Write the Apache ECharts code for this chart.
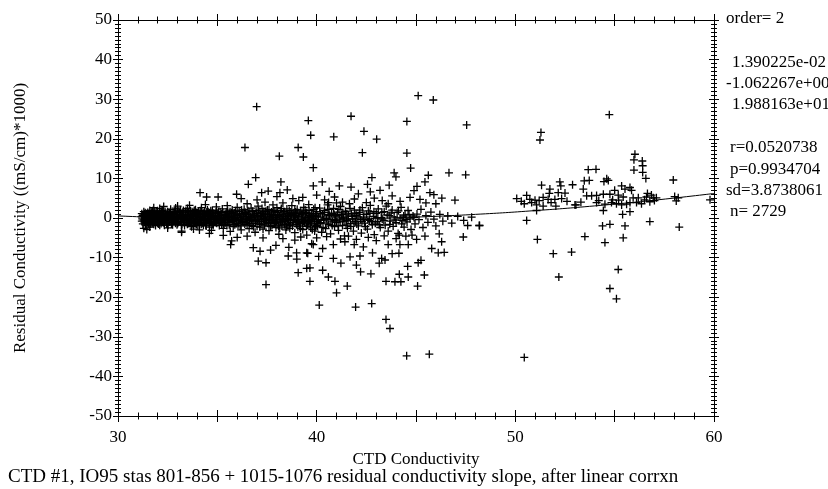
<!DOCTYPE html>
<html>
<head>
<meta charset="utf-8">
<script src="https://cdn.jsdelivr.net/npm/echarts@6/dist/echarts.min.js"></script>
<style>
html,body{margin:0;padding:0;background:#fff;}
#c{width:828px;height:489px;}
</style>
</head>
<body>
<div id="c"></div>
<script>
// ---- data ----
var xTickLabels = [30, 40, 50, 60];
var yTickLabels = [-50, -40, -30, -20, -10, 0, 10, 20, 30, 40, 50];

// fitted curve (order 2)
var fitX = [30, 33, 36, 39, 42, 45, 48, 51, 54, 57, 60];
var fitY = [0.53, -0.03, -0.34, -0.40, -0.21, 0.23, 0.92, 1.87, 3.06, 4.50, 6.19];

// dense band 31-35
var band1 = [[31.2,0.3],[31.2,-0.8],[31.2,1.1],[31.25,-1.5],[31.3,0.5],[31.3,1.6],[31.35,-0.3],[31.4,-1.2],[31.4,0.9],[31.45,0.1],[31.5,1.4],[31.5,-0.6],[31.55,-1.7],[31.6,0.4],[31.6,1.9],[31.65,-1.0],[31.7,0.0],[31.7,1.2],[31.75,-0.4],[31.8,-1.6],[31.8,0.7],[31.85,1.6],[31.9,-0.9],[31.9,0.2],[31.95,1.0],[32.0,-1.3],[32.0,0.5],[32.05,-0.2],[32.1,1.5],[32.1,-1.8],[32.15,0.8],[32.2,-0.7],[32.2,0.1],[32.25,1.9],[32.3,-1.2],[32.3,1.0],[32.35,-0.1],[32.4,0.6],[32.45,-1.5],[32.5,1.6],[32.5,-0.5],[32.55,0.3],[32.6,-1.0],[32.6,1.2],[32.65,2.2],[32.7,-0.2],[32.75,-1.7],[32.8,0.9],[32.8,0.0],[32.85,1.7],[32.9,-0.9],[32.95,0.4],[33.0,-1.4],[33.0,1.3],[33.05,-0.3],[33.1,0.7],[33.15,2.0],[33.2,-1.1],[33.2,0.2],[33.25,1.0],[33.3,-0.6],[33.35,-1.9],[33.4,1.5],[33.4,0.4],[33.45,-0.8],[33.5,2.4],[33.5,0.9],[33.55,-1.3],[33.6,0.0],[33.65,1.8],[33.7,-0.5],[33.7,-2.2],[33.75,0.6],[33.8,1.2],[33.85,-1.0],[33.9,0.3],[33.9,2.1],[33.95,-1.6],[34.0,0.8],[34.0,-0.3],[34.05,1.5],[34.1,-1.2],[34.15,0.1],[34.2,2.6],[34.2,-0.7],[34.25,1.0],[34.3,-1.8],[34.3,0.4],[34.35,1.7],[34.4,-0.4],[34.45,-1.3],[34.5,0.9],[34.5,2.0],[34.55,-0.1],[34.6,-2.3],[34.6,1.3],[34.65,0.3],[34.7,-0.9],[34.75,1.9],[34.8,0.6],[34.8,-1.5],[34.85,-0.2],[34.9,1.1],[34.95,2.8],[35.0,-0.6],[35.0,0.5],
[31.3,-2.6],[31.45,-2.9],[31.8,2.6],[32.3,2.9],[32.5,-2.5],[33.2,-3.3],[33.0,3.0],[33.6,3.2],[33.8,-2.8],[34.1,-3.0],[34.4,3.4],[34.7,-3.1],[32.9,2.5],[31.6,-2.3],[32.1,2.4]];
var band1b = [[31.22,-0.2],[31.27,0.8],[31.32,-1.0],[31.37,1.3],[31.42,-0.4],[31.47,0.6],[31.52,-1.3],[31.57,1.0],[31.62,-0.5],[31.67,1.6],[31.72,-1.3],[31.77,0.3],[31.82,-0.2],[31.87,-1.1],[31.92,1.4],[31.97,-0.5],[32.02,1.1],[32.07,-1.0],[32.12,0.1],[32.17,-1.4],[32.22,1.3],[32.27,-0.4],[32.32,0.4],[32.37,1.6],[32.42,-0.9],[32.47,0.9],[32.52,-1.8],[32.57,1.4],[32.62,-0.3],[32.67,0.6],[32.72,-1.2],[32.77,1.1],[32.82,-0.6],[32.87,0.2],[32.92,1.5],[32.97,-1.7],[33.02,0.0],[33.07,1.7],[33.12,-0.9],[33.17,0.5],[33.22,-1.6],[33.27,1.5],[33.32,0.1],[33.37,-0.4],[33.42,1.9],[33.47,-1.1],[33.52,0.3],[33.57,1.3],[33.62,-0.9],[33.67,0.7],[33.72,-1.5],[33.77,1.6],[33.82,-0.1],[33.87,0.9],[33.92,-1.2],[33.97,1.4],[34.02,-1.9],[34.07,0.3],[34.12,1.0],[34.17,-0.6],[34.22,1.7],[34.27,-1.3],[34.32,-0.1],[34.37,0.8],[34.42,-1.8],[34.47,1.5],[34.52,-0.7],[34.57,0.4],[34.62,-1.1],[34.67,1.8],[34.72,0.0],[34.77,-1.6],[34.82,1.2],[34.87,-0.8],[34.92,0.2],[34.97,-1.3]];
var band1c = [[31.24,0.6],[31.29,-0.5],[31.34,1.0],[31.39,-1.8],[31.44,0.3],[31.49,-1.0],[31.54,0.8],[31.59,-0.1],[31.64,-1.5],[31.69,0.5],[31.74,1.8],[31.79,-0.8],[31.84,0.1],[31.89,-1.9],[31.94,0.7],[31.99,1.8],[32.04,-1.5],[32.09,0.3],[32.14,-0.6],[32.19,1.7],[32.24,-1.1],[32.29,0.2],[32.34,-1.8],[32.39,1.1],[32.44,0.0],[32.49,-1.2],[32.54,0.9],[32.59,-0.7],[32.64,1.6],[32.69,-1.6],[32.74,0.4],[32.79,-0.4],[32.84,1.3],[32.89,-1.3],[32.94,-0.2],[32.99,0.8],[33.04,-1.1],[33.09,1.4],[33.14,0.1],[33.19,-1.8],[33.24,0.6],[33.29,1.9],[33.34,-1.2],[33.39,0.9],[33.44,-0.2],[33.49,-1.6],[33.54,1.6],[33.59,-0.6],[33.64,0.3],[33.69,-1.9],[33.74,1.0],[33.79,-0.3],[33.84,1.9],[33.89,-1.4],[33.94,0.5],[33.99,-0.9],[34.04,1.1],[34.09,-0.5],[34.14,1.8],[34.19,-1.6],[34.24,0.2],[34.29,1.2],[34.34,-1.1],[34.39,0.6],[34.44,-2.0],[34.49,0.0],[34.54,1.6],[34.59,-1.4],[34.64,0.9],[34.69,-0.4],[34.74,1.2],[34.79,-1.9],[34.84,0.3],[34.89,-1.1],[34.94,1.5],[34.99,-0.3]];

// dense band 35-40
var band2 = [[35.05,1.6],[35.1,-1.9],[35.1,0.2],[35.15,-0.8],[35.2,1.0],[35.25,2.3],[35.3,-0.3],[35.3,-2.6],[35.35,0.7],[35.4,-1.2],[35.45,1.5],[35.5,-0.5],[35.5,3.1],[35.55,0.1],[35.6,-1.7],[35.6,1.1],[35.65,-3.4],[35.7,0.5],[35.75,2.0],[35.8,-0.9],[35.8,-2.2],[35.85,1.3],[35.9,0.0],[35.95,-1.4],[36.0,2.7],[36.0,0.7],[36.05,-0.6],[36.1,1.6],[36.15,-2.0],[36.2,0.3],[36.2,-3.0],[36.25,1.1],[36.3,-1.1],[36.35,2.2],[36.4,-0.2],[36.45,0.9],[36.5,-1.8],[36.5,3.6],[36.55,0.4],[36.6,-2.7],[36.6,1.5],[36.65,-0.7],[36.7,2.5],[36.75,0.1],[36.8,-1.4],[36.85,1.0],[36.9,-3.6],[36.9,-0.3],[36.95,1.9],[37.0,-2.1],[37.0,0.6],[37.05,3.0],[37.1,-0.9],[37.15,1.3],[37.2,-1.6],[37.2,0.0],[37.25,2.4],[37.3,-2.8],[37.35,0.8],[37.4,-0.5],[37.4,4.0],[37.45,1.7],[37.5,-1.2],[37.55,0.3],[37.6,-3.2],[37.6,2.1],[37.65,-0.2],[37.7,1.0],[37.75,-1.9],[37.8,0.5],[37.8,3.3],[37.85,-0.8],[37.9,1.6],[37.95,-2.4],[38.0,0.1],[38.0,2.6],[38.05,-1.3],[38.1,-4.1],[38.1,0.9],[38.15,-0.4],[38.2,1.9],[38.25,-2.0],[38.3,0.4],[38.3,3.8],[38.35,-0.9],[38.4,1.3],[38.45,-3.0],[38.5,-0.1],[38.5,2.3],[38.55,-1.6],[38.6,0.7],[38.65,-2.6],[38.7,1.5],[38.7,-0.5],[38.75,3.1],[38.8,-1.1],[38.85,0.2],[38.9,-3.7],[38.9,2.0],[38.95,-0.7],[39.0,1.0],[39.05,-2.2],[39.1,0.3],[39.1,4.4],[39.15,-1.4],[39.2,1.8],[39.25,-0.3],[39.3,-2.9],[39.3,0.8],[39.35,2.7],[39.4,-1.0],[39.45,0.0],[39.5,-4.3],[39.5,1.4],[39.55,-1.8],[39.6,0.6],[39.6,3.4],[39.65,-0.6],[39.7,-2.5],[39.75,1.1],[39.8,-0.2],[39.85,2.2],[39.9,-1.5],[39.9,-3.3],[39.95,0.5],[40.0,1.6],[40.0,-0.9]];
var band2b = [[35.02,1.2],[35.08,-1.1],[35.12,0.6],[35.18,-0.2],[35.22,-1.5],[35.28,1.4],[35.33,0.0],[35.38,-0.8],[35.42,0.9],[35.48,-1.9],[35.52,1.7],[35.58,-0.4],[35.62,0.4],[35.68,-1.1],[35.72,1.3],[35.78,-0.2],[35.82,0.8],[35.88,-1.7],[35.92,1.8],[35.98,-0.6],[36.02,0.2],[36.08,-1.3],[36.12,1.0],[36.18,-0.4],[36.22,2.0],[36.28,-0.9],[36.32,0.5],[36.38,-1.6],[36.42,1.4],[36.48,0.0],[36.52,-0.8],[36.58,1.0],[36.62,-1.4],[36.68,0.3],[36.72,-0.3],[36.78,1.7],[36.82,-2.2],[36.88,0.5],[36.92,-1.0],[36.98,1.2],[37.02,-0.4],[37.08,1.8],[37.12,-1.5],[37.18,0.7],[37.22,-0.9],[37.28,1.2],[37.32,-0.1],[37.38,-1.8],[37.42,0.9],[37.48,-0.6],[37.52,2.0],[37.58,-1.2],[37.62,0.5],[37.68,-2.2],[37.72,1.5],[37.78,-0.4],[37.82,0.9],[37.88,-1.4],[37.92,0.2],[37.98,-0.8],[38.02,1.4],[38.08,-2.0],[38.12,0.5],[38.18,-1.0],[38.22,2.4],[38.28,-0.5],[38.32,1.0],[38.38,-1.7],[38.42,0.2],[38.48,-2.3],[38.52,1.1],[38.58,-0.5],[38.62,1.9],[38.68,-1.2],[38.72,0.3],[38.78,-2.0],[38.82,1.2],[38.88,-0.3],[38.92,0.6],[38.98,-1.6],[39.02,2.2],[39.08,-0.9],[39.12,1.2],[39.18,-2.6],[39.22,0.3],[39.28,-1.2],[39.32,1.5],[39.38,-0.6],[39.42,2.0],[39.48,-2.1],[39.52,0.2],[39.58,-0.9],[39.62,1.9],[39.68,-1.5],[39.72,0.4],[39.78,-2.9],[39.82,1.0],[39.88,-0.5],[39.92,2.6],[39.98,-1.9],[40.02,0.4],[40.12,-1.4],[40.18,1.2],[40.22,-0.6],[40.32,-2.4],[40.38,1.4],[40.42,-0.2],[40.52,-1.3],[40.58,0.9],[40.62,2.2],[40.72,-0.4],[40.78,-1.9],[40.88,0.9],[40.92,-0.7],[41.02,0.6],[41.08,-2.0],[41.12,2.2],[41.18,-1.0],[41.28,0.2],[41.32,1.3],[41.38,-0.8],[41.48,-1.8],[41.52,1.0],[41.58,-0.3],[41.68,2.4],[41.72,-2.1],[41.82,0.4],[41.88,-1.0],[41.92,1.2],[42.02,-1.5],[42.08,0.3],[42.18,2.0],[42.28,-0.9],[42.38,0.9],[42.45,-2.2],[42.58,-0.4],[42.68,1.2],[42.75,-0.9],[42.88,1.6],[42.95,-1.3],[43.08,0.1],[43.15,-1.7],[43.28,1.4],[43.38,-0.6],[43.55,0.8],[43.68,-1.6],[43.75,1.3],[43.95,-0.5],[44.12,1.8],[44.28,-1.5],[44.38,0.5],[44.5,-0.4],[44.65,0.9],[44.9,0.1]];
var band2c = [[35.04,-0.3],[35.14,1.5],[35.24,-0.6],[35.34,-1.6],[35.44,0.3],[35.54,-1.1],[35.64,1.6],[35.74,-0.6],[35.84,0.2],[35.94,1.0],[36.04,-1.8],[36.14,0.0],[36.24,-0.8],[36.34,1.2],[36.44,-1.2],[36.54,1.8],[36.64,0.1],[36.74,-1.9],[36.84,0.7],[36.94,-0.7],[37.04,0.2],[37.14,-2.3],[37.24,0.4],[37.34,1.6],[37.44,-1.3],[37.54,1.0],[37.64,-0.7],[37.74,0.0],[37.84,1.9],[37.94,-1.2],[38.04,0.6],[38.14,-2.5],[38.24,-0.2],[38.34,1.6],[38.44,-0.8],[38.54,0.4],[38.64,-1.9],[38.74,0.9],[38.84,-0.6],[38.94,1.5],[39.04,-0.3],[39.14,-1.8],[39.24,0.8],[39.34,-0.8],[39.44,1.2],[39.54,-1.3],[39.64,0.1],[39.74,-1.0],[39.84,0.7],[39.94,-2.2]];

// band 40-48
var band3 = [[40.05,-2.1],[40.1,0.2],[40.15,2.5],[40.2,-1.2],[40.25,-3.6],[40.3,0.8],[40.35,-0.5],[40.4,1.9],[40.45,-2.7],[40.5,-0.1],[40.55,3.3],[40.6,-1.6],[40.65,0.6],[40.7,-4.0],[40.75,1.2],[40.8,-0.8],[40.85,2.4],[40.9,-2.2],[40.95,0.3],[41.0,-1.1],[41.05,1.5],[41.1,-3.1],[41.15,-0.3],[41.2,2.9],[41.25,0.9],[41.3,-1.9],[41.35,0.0],[41.4,-4.5],[41.45,1.7],[41.5,-0.7],[41.55,-2.6],[41.6,0.5],[41.65,3.6],[41.7,-1.4],[41.75,1.1],[41.8,-0.2],[41.85,-3.3],[41.9,2.0],[41.95,-0.9],[42.0,0.7],[42.1,-2.0],[42.15,1.4],[42.2,-0.4],[42.25,-3.8],[42.3,2.6],[42.35,0.2],[42.4,-1.3],[42.5,0.9],[42.55,-2.8],[42.6,1.8],[42.65,-0.6],[42.7,3.2],[42.8,-1.7],[42.85,0.4],[42.9,-4.2],[43.0,1.2],[43.05,-0.9],[43.1,2.3],[43.2,-2.4],[43.25,0.1],[43.3,-0.3],[43.4,1.6],[43.45,-1.8],[43.5,3.0],[43.6,-3.3],[43.65,0.6],[43.7,-0.8],[43.8,2.0],[43.85,-2.1],[43.9,0.3],[44.0,-1.2],[44.05,1.4],[44.1,-3.9],[44.2,0.0],[44.25,2.7],[44.3,-0.6],[44.4,-2.3],[44.45,0.8],[44.55,-1.0],[44.6,1.9],[44.7,-0.2],[44.75,-2.9],[44.85,0.5],
[44.95,-1.5],[45.05,1.0],[45.15,-0.4],[45.25,2.2],[45.35,-2.4],[45.5,0.6],[45.6,-1.1],[45.75,1.5],[45.9,-0.3],[46.0,-2.0],[46.2,0.9],[46.35,-0.8],[46.6,0.5],[46.8,-1.3],[47.1,0.4],[47.4,-0.6],[47.8,0.2],[48.2,-1.9],[47.6,-1.9]];

// scattered points above the band
var upper = [[36.98,28.1],[36.39,17.8],[38.12,15.6],[39.07,17.8],[36.93,10.2],[36.56,8.5],[38.2,9.1],[38.52,7.1],[34.13,6.4],[34.46,5.3],[35.04,5.3],[35.97,6.0],[37.23,6.4],[37.56,6.8],[38.15,6.4],[39.83,12.7],[39.33,15.4],
[45.11,30.9],[45.87,29.8],[41.73,25.7],[39.58,24.6],[44.54,24.4],[47.55,23.5],[42.38,21.9],[39.7,20.9],[40.86,20.5],[43.02,19.9],[42.3,16.5],[44.54,16.4],[44.73,12.6],[46.66,11.4],[47.5,10.9],[45.62,10.8],[43.9,11.4],[43.99,10.4],[42.78,10.2],[45.45,9.1],[45.05,8.0],[43.65,8.3],[42.56,8.5],[40.28,9.1],[39.83,8.1],[41.14,8.1],[41.73,7.8],[40.63,6.7],[43.19,7.0],[46.96,4.5],[45.7,6.4],[48.18,-1.9],
[40.0,5.8],[40.4,4.6],[40.9,5.3],[41.3,4.0],[41.9,4.8],[42.1,6.1],[42.5,3.9],[42.9,5.0],[43.3,4.4],[43.8,5.6],[44.2,4.2],[44.7,5.2],[45.2,4.7],[45.5,3.8],[45.9,5.9],[44.9,6.9],[42.7,6.6],[41.0,3.8],[39.3,5.2],[38.8,4.9],[38.0,5.4],[37.0,4.6],[36.2,4.9],[43.6,3.6],[40.6,3.9],[46.3,5.0],[46.0,3.6]];

// scattered points below the band
var lower = [[37.45,-11.3],[37.45,-16.8],[39.07,-13.8],[39.66,-12.6],[39.66,-16.0],[38.57,-9.6],[38.99,-8.8],[39.5,-8.8],[37.68,-8.1],[37.15,-8.4],[36.81,-7.5],[35.67,-6.7],[35.72,-5.8],[37.06,-10.9],[37.95,-6.9],[39.83,-6.7],[33.2,-3.6],
[46.12,-8.8],[46.42,-8.7],[45.79,-7.7],[45.03,-5.4],[45.45,-4.6],[46.17,-4.0],[46.29,-6.0],[47.38,-4.8],[45.25,-10.7],[45.11,-11.3],[45.42,-14.4],[45.08,-17.2],[44.61,-14.9],[44.16,-14.2],[43.94,-16.1],[44.24,-16.1],[43.49,-16.0],[44.58,-12.2],[44.14,-8.9],[43.44,-10.6],[43.27,-10.2],[43.15,-11.4],[42.73,-14.1],[42.21,-13.6],[42.77,-21.6],[41.96,-22.5],[40.13,-22.0],[43.49,-25.6],[43.69,-27.9],[44.53,-34.8],[45.67,-34.4],[50.45,-35.2],[41.0,-18.9],[41.54,-17.2],[40.92,-16.0],[40.59,-14.9],[40.3,-13.2],[39.5,-12.7],[41.22,-11.4],[40.84,-10.2],[41.68,-9.8],[42.18,-9.6],[42.81,-8.8],[39.55,-8.9],[40.3,-7.7],[40.84,-6.7],[39.75,-6.5],[41.42,-6.0],[41.89,-6.7],[42.35,-7.3],[43.6,-6.7],[44.19,-6.7],[44.61,-6.7],[44.16,-4.3],[44.49,-4.6],
[38.3,-5.2],[38.9,-5.6],[39.2,-4.8],[40.0,-5.0],[40.5,-4.7],[41.2,-5.3],[41.6,-4.6],[42.0,-5.4],[42.6,-4.9],[43.0,-5.7],[43.4,-4.5],[44.0,-5.2],[44.8,-4.3],[36.5,-4.6],[37.3,-5.0],[35.3,-4.4],[34.6,-3.9],[36.0,-4.9],[38.6,-7.4],[39.0,-10.4],[40.1,-9.7],[42.0,-11.9],[43.8,-9.0]];

// right-hand group, 50-60
var group50 = [[54.73,26.1],[51.29,21.6],[51.24,19.7],[56.02,16.1],[55.97,14.7],[56.39,14.4],[56.41,13.2],[55.97,12.1],[56.41,11.5],[56.57,10.0],[53.67,12.2],[54.06,12.3],[57.95,9.6],[53.47,9.4],[53.72,9.5],[54.6,9.9],[54.68,9.5],[54.46,9.2],[52.24,9.1],[52.29,8.1],[52.88,8.4],[51.32,8.3],[53.42,7.3],[55.35,8.1],[55.52,7.3],[55.77,7.7],[55.85,7.0],[51.74,7.3],[51.71,6.2],[52.5,6.3],[52.16,6.4],[50.57,5.7],[50.07,4.9],[50.73,4.7],[50.99,4.5],[51.4,5.2],[51.65,4.7],[51.99,4.7],[52.33,4.9],[50.82,3.9],[51.07,3.3],[51.4,3.0],[52.04,3.0],[53.05,3.3],[51.07,1.9],[53.59,5.6],[53.84,5.6],[54.09,5.7],[54.43,6.0],[54.76,6.0],[55.18,5.8],[55.43,5.3],[55.93,5.1],[56.19,5.1],[56.6,5.3],[56.85,5.8],[57.1,5.1],[58.02,5.4],[58.2,5.1],[58.1,4.3],[54.09,3.9],[54.51,3.5],[54.84,3.9],[55.09,3.6],[55.35,3.3],[55.6,3.5],[55.77,3.9],[56.1,3.9],[56.35,3.6],[56.77,4.1],[56.94,5.1],[54.43,1.9],[55.77,1.6],[55.4,0.9],[53.0,3.3],[50.57,-0.6],[56.77,-0.9],[58.25,-2.3],[54.76,-1.6],[54.39,-2.0],[55.52,-2.0],[55.43,-5.0],[54.51,-6.2],[53.5,-4.7],[51.11,-5.4],[51.91,-9.0],[52.83,-8.6],[52.19,-14.9],[55.18,-13.0],[54.76,-17.8],[55.09,-20.4],[59.8,4.6],[50.3,4.2],[50.45,3.6],[51.2,4.4],[51.8,3.9],[52.6,4.2],[54.9,4.6],[55.2,4.5],[56.5,4.6],[57.0,4.4],[56.65,6.2],[55.0,7.0],[54.2,4.4],[53.3,4.0]];

var statLines = [
  {t: 'order= 2', x: 726, y: 19},
  {t: '1.390225e-02', x: 732, y: 63},
  {t: '-1.062267e+00', x: 726, y: 84},
  {t: '1.988163e+01', x: 732, y: 105},
  {t: 'r=0.0520738', x: 730, y: 148},
  {t: 'p=0.9934704', x: 730, y: 170},
  {t: 'sd=3.8738061', x: 726, y: 191},
  {t: 'n= 2729', x: 730, y: 212}
];
var xTitle = 'CTD Conductivity';
var yTitle = 'Residual Conductivity ((mS/cm)*1000)';
var caption = 'CTD #1, IO95 stas 801-856 + 1015-1076 residual conductivity slope, after linear corrxn';

// ---- chart ----
var FONT = 'Liberation Serif, Times New Roman, serif';
var FS = 17;
var chart = echarts.init(document.getElementById('c'), null, {renderer: 'canvas'});

function xAx(pos, inside, labels) {
  return {
    type: 'value', position: pos, min: 30, max: 60, interval: 5,
    axisLine: {show: true, onZero: false, lineStyle: {color: '#000', width: 1}},
    axisTick: {show: true, inside: inside, length: 6, lineStyle: {color: '#000', width: 1}},
    minorTick: {show: true, splitNumber: 5, length: 3.5, lineStyle: {color: '#000', width: 1}},
    splitLine: {show: false}, minorSplitLine: {show: false},
    axisLabel: {show: labels, margin: 13, color: '#000', fontFamily: FONT, fontSize: FS,
      formatter: function (v) { return xTickLabels.indexOf(v) >= 0 ? String(v) : ''; }},
    name: labels ? xTitle : '', nameLocation: 'middle', nameGap: 33,
    nameTextStyle: {color: '#000', fontFamily: FONT, fontSize: FS}
  };
}
function yAx(pos, inside, labels) {
  return {
    type: 'value', position: pos, min: -50, max: 50, interval: 10,
    axisLine: {show: true, onZero: false, lineStyle: {color: '#000', width: 1}},
    axisTick: {show: true, inside: inside, length: 5, lineStyle: {color: '#000', width: 1}},
    minorTick: {show: true, splitNumber: 10, length: 3, lineStyle: {color: '#000', width: 1}},
    splitLine: {show: false}, minorSplitLine: {show: false},
    axisLabel: {show: labels, margin: 6, color: '#000', fontFamily: FONT, fontSize: FS,
      formatter: function (v) { return yTickLabels.indexOf(v) >= 0 ? String(v) : ''; }},
    name: labels ? yTitle : '', nameLocation: 'middle', nameGap: 89,
    nameTextStyle: {color: '#000', fontFamily: FONT, fontSize: FS}
  };
}

var graphics = statLines.map(function (s) {
  return {type: 'text', x: s.x, y: s.y, style: {text: s.t, fill: '#000', font: FS + 'px ' + FONT,
    textAlign: 'left', textVerticalAlign: 'middle', align: 'left', verticalAlign: 'middle'}};
});
graphics.push({type: 'text', x: 8, y: 477, style: {text: caption, fill: '#000', font: '19px ' + FONT,
  textAlign: 'left', textVerticalAlign: 'middle', align: 'left', verticalAlign: 'middle'}});

var points = [].concat(band1, band1b, band1c, band2, band2b, band2c, band3, upper, lower, group50);
var fitData = fitX.map(function (x, i) { return [x, fitY[i]]; });

chart.setOption({
  animation: false,
  backgroundColor: '#fff',
  grid: {left: 118, right: 114, top: 20, bottom: 73, containLabel: false, outerBoundsMode: 'none'},
  xAxis: [xAx('bottom', false, true), xAx('bottom', true, false), xAx('top', false, false), xAx('top', true, false)],
  yAxis: [yAx('left', false, true), yAx('left', true, false), yAx('right', false, false), yAx('right', true, false)],
  series: [
    {
      type: 'scatter', xAxisIndex: 0, yAxisIndex: 0, data: points,
      symbol: 'path://M5,0L5,10M0,5L10,5', symbolSize: 8,
      itemStyle: {color: 'rgba(0,0,0,0)', borderColor: '#000', borderWidth: 1.3, opacity: 1},
      emphasis: {disabled: true}, silent: true
    },
    {
      type: 'line', xAxisIndex: 0, yAxisIndex: 0, data: fitData, smooth: true,
      showSymbol: false, symbol: 'none', lineStyle: {color: '#000', width: 1}, silent: true
    }
  ],
  graphic: graphics
});
</script>
</body>
</html>
